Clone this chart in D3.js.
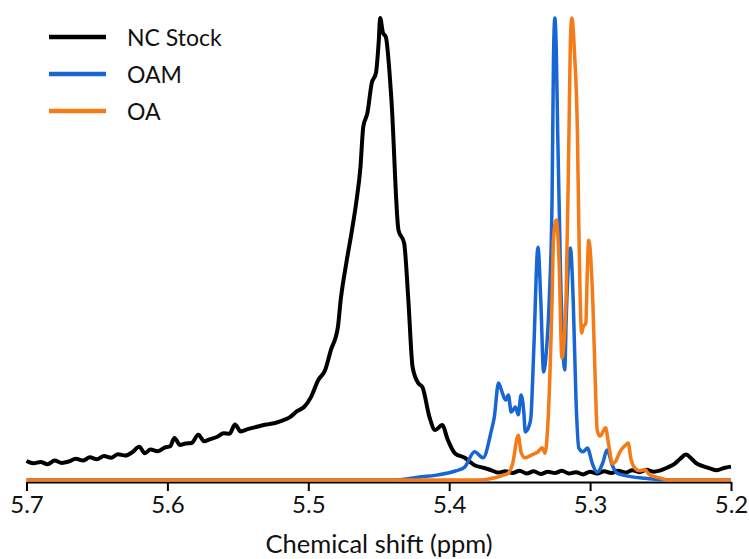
<!DOCTYPE html>
<html><head><meta charset="utf-8">
<script src="https://cdn.jsdelivr.net/npm/d3@7"></script>
<style>body{margin:0;background:#fff}svg{display:block}text{font-family:Lato,"Open Sans",sans-serif;fill:#111}</style>
</head><body>
<script>
const seriesNames = ["NC Stock", "OAM", "OA"];
const seriesColors = ["#000000", "#1766d4", "#f47b16"];
const xTicks = [5.7, 5.6, 5.5, 5.4, 5.3, 5.2];

// [ppm, intensity (a.u., peak max = 100)]
const ncStock = [
 [5.700,4.1],[5.695,3.6],[5.690,3.9],[5.685,3.4],[5.680,4.2],[5.675,3.7],[5.670,4.0],[5.665,4.6],[5.660,4.2],[5.655,4.9],
 [5.650,4.5],[5.645,5.2],[5.640,4.8],[5.635,5.6],[5.630,5.3],[5.625,6.0],[5.620,7.2],[5.616,5.8],[5.612,6.6],[5.607,6.2],
 [5.602,7.0],[5.598,7.3],[5.595,9.1],[5.591,7.6],[5.587,7.9],[5.583,8.0],[5.578,9.8],[5.574,8.4],[5.570,8.8],[5.565,9.3],
 [5.560,10.1],[5.556,10.0],[5.552,12.0],[5.548,10.5],[5.543,11.0],[5.538,11.4],[5.533,11.8],[5.528,12.1],[5.523,12.4],[5.518,12.9],
 [5.513,13.6],[5.508,14.9],[5.503,15.8],[5.498,18.0],[5.493,21.6],[5.488,23.8],[5.484,28.1],[5.479,33.1],[5.477,39.0],[5.473,47.0],
 [5.469,54.1],[5.466,60.0],[5.463,67.7],[5.461,76.4],[5.458,79.5],[5.455,85.9],[5.452,88.1],[5.450,95.0],[5.449,100.0],[5.447,96.8],
 [5.445,95.9],[5.441,82.3],[5.436,54.1],[5.432,51.3],[5.429,39.0],[5.426,24.5],[5.422,21.0],[5.419,20.1],[5.414,13.6],[5.410,10.8],
 [5.405,11.9],[5.401,8.7],[5.396,5.8],[5.389,4.8],[5.382,3.2],[5.375,2.6],[5.370,2.1],[5.365,1.6],[5.360,1.9],[5.355,1.5],
 [5.350,2.0],[5.345,1.4],[5.340,1.9],[5.335,1.3],[5.330,1.8],[5.325,1.5],[5.320,2.0],[5.315,1.4],[5.310,1.7],[5.305,1.2],
 [5.300,1.8],[5.295,1.4],[5.290,1.9],[5.285,1.5],[5.280,2.0],[5.275,1.6],[5.270,2.1],[5.265,1.7],[5.260,2.2],[5.255,1.8],
 [5.250,2.1],[5.245,2.7],[5.240,3.5],[5.236,4.6],[5.232,5.5],[5.228,4.6],[5.225,3.7],[5.220,3.0],[5.215,2.5],[5.210,2.1],
 [5.205,2.6],[5.200,2.9]
];
const oam = [
 [5.700,0],[5.440,0],[5.430,0.2],[5.422,0.6],[5.410,1.0],[5.401,1.5],[5.395,2.0],[5.389,2.8],[5.382,6.1],[5.376,4.8],
 [5.370,10.8],[5.368,13.6],[5.365,21.0],[5.363,19.5],[5.360,17.3],[5.358,18.4],[5.356,14.7],[5.353,15.8],[5.351,14.1],[5.349,18.4],
 [5.347,14.5],[5.346,10.4],[5.343,12.0],[5.342,13.6],[5.340,28.0],[5.337,50.4],[5.335,39.0],[5.333,23.4],[5.331,28.0],[5.329,39.0],
 [5.327,60.6],[5.326,90.9],[5.325,100.0],[5.324,93.0],[5.323,75.1],[5.321,45.0],[5.318,23.8],[5.317,34.6],[5.314,50.2],[5.312,39.0],
 [5.310,17.3],[5.308,6.9],[5.305,6.1],[5.302,6.9],[5.298,3.2],[5.295,1.7],[5.291,3.7],[5.288,6.5],[5.284,3.0],[5.281,1.5],
 [5.274,0.9],[5.262,0.4],[5.252,0.1],[5.240,0],[5.200,0]
];
const oa = [
 [5.700,0],[5.380,0],[5.366,0.6],[5.362,1.0],[5.358,1.5],[5.355,3.5],[5.351,9.7],[5.349,6.0],[5.346,4.8],[5.341,5.5],
 [5.337,6.1],[5.334,7.0],[5.332,5.8],[5.330,12.0],[5.327,38.9],[5.326,52.0],[5.324,56.3],[5.322,47.0],[5.320,26.4],[5.317,40.0],
 [5.315,75.0],[5.314,95.0],[5.313,100.0],[5.311,92.0],[5.309,75.1],[5.308,55.0],[5.306,31.8],[5.305,33.0],[5.303,34.0],[5.302,45.0],
 [5.301,51.9],[5.298,38.0],[5.296,18.0],[5.295,10.8],[5.293,9.5],[5.289,11.3],[5.287,8.0],[5.284,3.5],[5.282,4.0],[5.279,6.0],
 [5.275,7.5],[5.273,8.0],[5.271,4.5],[5.268,2.5],[5.265,2.0],[5.261,2.2],[5.258,1.2],[5.250,0.4],[5.245,0],[5.200,0]
];
const seriesData = [ncStock, oam, oa];

const W = 749, H = 559;
const svg = d3.select("body").append("svg").attr("width", W).attr("height", H);
const x = d3.scaleLinear().domain([5.7, 5.2]).range([26.5, 731]);
const y = d3.scaleLinear().domain([0, 100]).range([480, 18]);

// axis
const ax = svg.append("g").attr("transform", "translate(0,482)")
  .call(d3.axisBottom(x).tickValues(xTicks).tickFormat(d3.format(".1f")).tickSize(9).tickSizeOuter(0).tickPadding(5));
ax.select(".domain").attr("stroke", "#000").attr("stroke-width", 2);
ax.selectAll(".tick line").attr("stroke", "#000").attr("stroke-width", 2);
ax.selectAll(".tick text").attr("font-size", 24).attr("font-family", "Lato").attr("fill", "#1a1a1a");

svg.append("text").attr("x", 379).attr("y", 553).attr("text-anchor", "middle")
  .attr("font-size", 25.5).text("Chemical shift (ppm)");

const line = d3.line().x(d => x(d[0])).y(d => y(d[1])).curve(d3.curveMonotoneX);
[0, 1, 2].forEach(i => {
  const data = seriesData[i].slice().sort((a, b) => b[0] - a[0]);
  svg.append("path").datum(data).attr("d", line).attr("fill", "none")
    .attr("stroke", seriesColors[i]).attr("stroke-width", i === 0 ? 4 : 3.5)
    .attr("stroke-linejoin", "round");
});

// legend
const lg = svg.append("g");
seriesNames.forEach((n, i) => {
  const yy = 37 + i * 37;
  lg.append("line").attr("x1", 49).attr("x2", 106).attr("y1", yy).attr("y2", yy)
    .attr("stroke", seriesColors[i]).attr("stroke-width", 4.5);
  lg.append("text").attr("x", 127).attr("y", yy + 9).attr("font-size", 23).text(n);
});
</script>
</body></html>
